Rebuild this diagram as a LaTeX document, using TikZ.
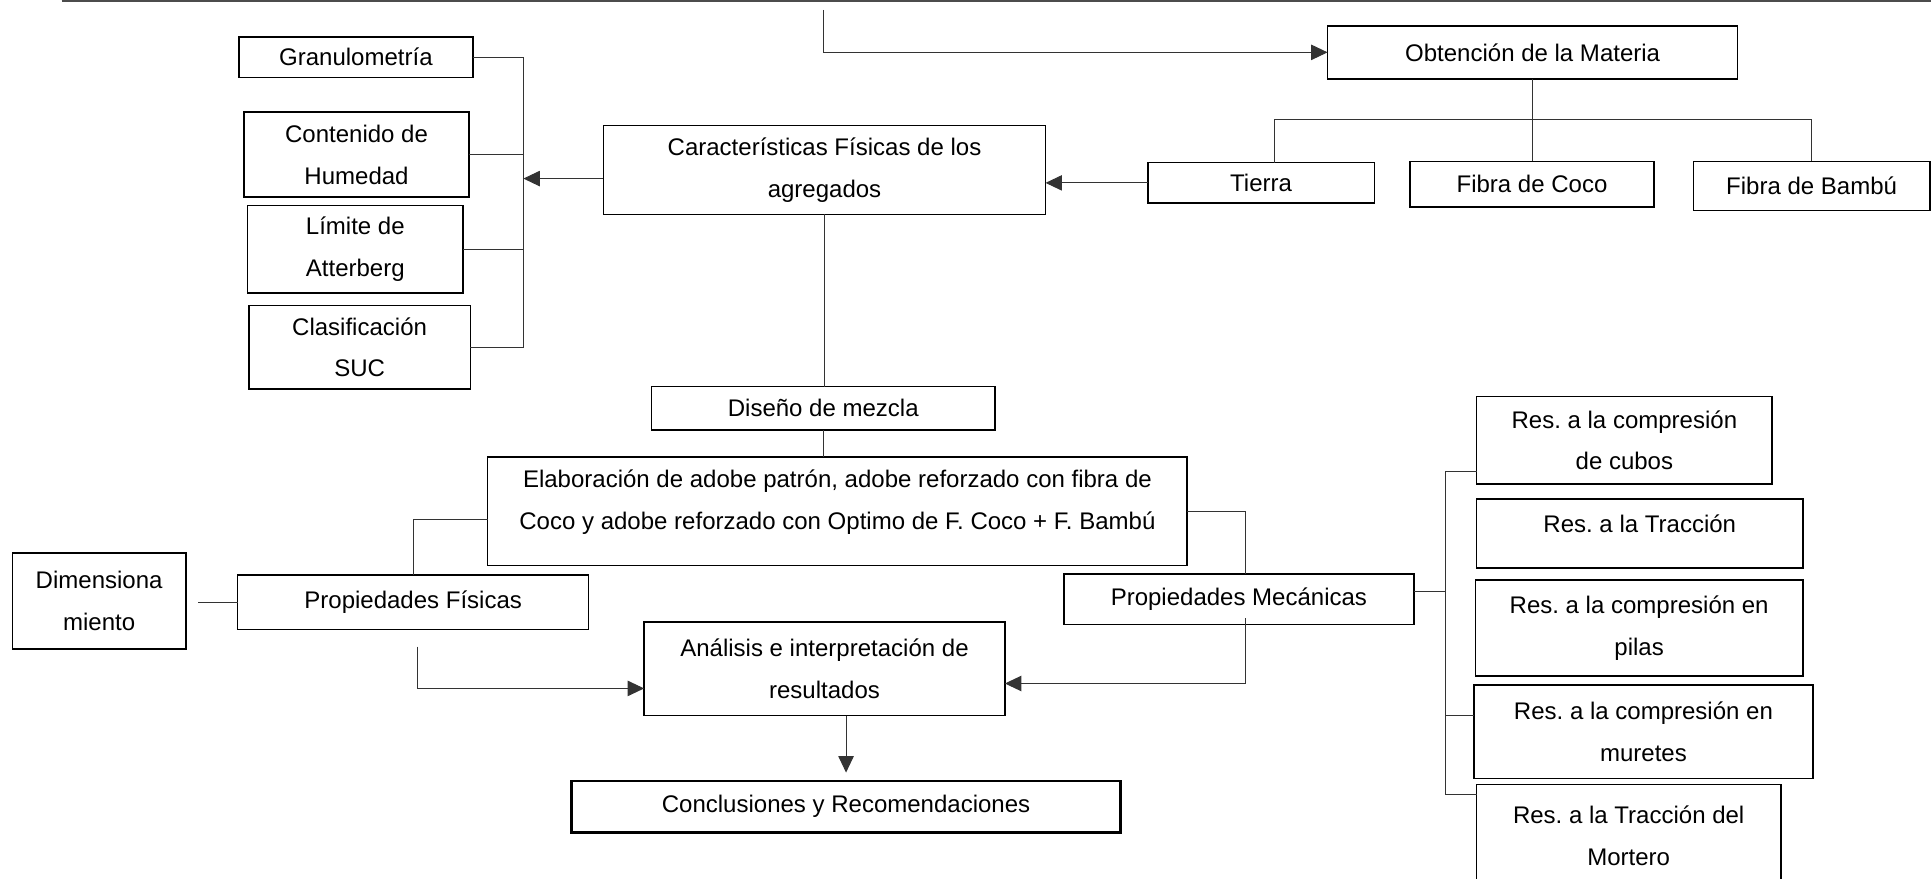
\documentclass[tikz,border=0pt]{standalone}
\usepackage{fontspec}
\setmainfont{Liberation Sans}
\frenchspacing
\usetikzlibrary{arrows.meta}
\tikzset{box/.style={rectangle,draw=black,line width=0.75pt,fill=white,inner sep=0pt,outer sep=0pt,align=center,font=\fontsize{11.7}{20.4}\selectfont}}
\tikzset{boxsize/.style 2 args={minimum width=#1,minimum height=#2}}
\tikzset{link/.style={draw=black!80,line width=0.5pt}}
\tikzset{toArrow/.style={link,-{Triangle[length=8pt,width=7.5pt]}}}
\begin{document}
\begin{tikzpicture}[x=0.6pt,y=-0.6pt]
\useasboundingbox (0,0) rectangle (1568,713);
\draw[black!70,line width=1pt] (50,1) -- (1568,1);
% first row
\node (obt) [box, boxsize={199.8pt}{25.8pt}] at (1244.5,42.5) {Obtención de la Materia};
\node (carac) [box, boxsize={215.4pt}{43.2pt}] at (669.5,138) {Características Físicas de los\\agregados};
\node (tierra) [box, boxsize={110.4pt}{19.8pt}] at (1024,148.5) {Tierra};
\node (coco) [box, boxsize={118.8pt}{22.2pt}] at (1244,149.5) {Fibra de Coco};
\node (bambu) [box, boxsize={115.2pt}{24pt}] at (1471,151) {Fibra de Bambú};
% ensayos de agregados
\node (granu) [box, boxsize={114pt}{19.8pt}] at (289,46.5) {Granulometría};
\node (humedad) [box, boxsize={109.8pt}{41.4pt}] at (289.5,125.5) {Contenido de\\Humedad};
\node (limite) [box, boxsize={105pt}{42.6pt}] at (288.5,202.5) {Límite de\\Atterberg};
\node (suc) [box, boxsize={108pt}{40.8pt}] at (292,282) {Clasificación\\SUC};
% centro
\node (diseno) [box, boxsize={167.4pt}{21pt}] at (668.5,331.5) {Diseño de mezcla};
\node (elab) [box, boxsize={340.8pt}{52.8pt}, text depth=10.8pt] at (680,415) {Elaboración de adobe patrón, adobe reforzado con fibra de\\Coco y adobe reforzado con Optimo de F. Coco + F. Bambú};
\node (pfis) [box, boxsize={171pt}{26.4pt}] at (335.5,489) {Propiedades Físicas};
\node (dim) [box, boxsize={84.6pt}{46.8pt}] at (80.5,488) {Dimensiona\\miento};
\node (pmec) [box, boxsize={170.4pt}{24.6pt}] at (1006,486.5) {Propiedades Mecánicas};
\node (anal) [box, boxsize={175.8pt}{45.6pt}] at (669.5,543) {Análisis e interpretación de\\resultados};
\node (concl) [box, boxsize={267.6pt}{25.2pt}, line width=1.2pt] at (687,655) {Conclusiones y Recomendaciones};
% ensayos mecanicos
\node (cubos) [box, boxsize={144pt}{42.6pt}] at (1319,357.5) {Res. a la compresión\\de cubos};
\node (trac) [box, boxsize={159pt}{33.6pt}, text depth=9.8pt] at (1331.5,433) {Res. a la Tracción};
\node (pilas) [box, boxsize={159.6pt}{46.8pt}] at (1331,510) {Res. a la compresión en\\pilas};
\node (muretes) [box, boxsize={165pt}{45.6pt}] at (1334.5,594) {Res. a la compresión en\\muretes};
\node (mortero) [box, boxsize={148.2pt}{49.8pt}] at (1322.5,678.5) {Res. a la Tracción del\\Mortero};
% conectores
\coordinate (top) at (669,8);
\coordinate (busl) at (425,0);
\coordinate (busr) at (1174,0);
\coordinate (obtj) at (0,97);
\draw[toArrow] (top) |- (obt.west);
\draw[link] (obt.south) -- (obt.south |- obtj);
\draw[link] ([xshift=6.6pt]tierra.north) |- (bambu.north |- obtj) -- (bambu.north);
\draw[link] (coco.north) -- (coco.north |- obtj);
\draw[toArrow] (tierra.west) -- (tierra.west -| carac.east);
\coordinate (cw) at ([yshift=-4.2pt]carac.west);
\draw[toArrow] (cw) -- (cw -| busl);
\draw[link] (granu.east) -- (granu.east -| busl) -- (suc.east -| busl) -- (suc.east);
\draw[link] (humedad.east) -- (humedad.east -| busl);
\draw[link] (limite.east) -- (limite.east -| busl);
\draw[link] (carac.south) -- (carac.south |- diseno.north);
\draw[link] (diseno.south) -- (diseno.south |- elab.north);
\draw[link] ([yshift=-4.2pt]elab.west) -| (pfis.north);
\draw[link] (elab.east) -| ([xshift=3pt]pmec.north);
\draw[link, shorten >=6pt] (pfis.west) -- (pfis.west -| dim.east);
\draw[toArrow] ([xshift=2pt,yshift=-8.4pt]pfis.south) |- ([yshift=-9.6pt]anal.west);
\draw[toArrow] ([xshift=3pt,yshift=3pt]pmec.south) |- ([yshift=-7.2pt]anal.east);
\draw[toArrow, shorten >=4pt] (anal.south -| concl.north) -- (concl.north);
\coordinate (pm) at ([yshift=3.6pt]pmec.east);
\coordinate (c1) at ([yshift=6pt]cubos.south west);
\coordinate (c4) at ([yshift=7.8pt]muretes.west);
\coordinate (c5) at ([yshift=-4.8pt]mortero.north west);
\draw[link] (pm) -- (pm -| busr);
\draw[link] (c1) -- (c1 -| busr) -- (c5 -| busr) -- (c5);
\draw[link] (c4) -- (c4 -| busr);
\end{tikzpicture}
\end{document}
